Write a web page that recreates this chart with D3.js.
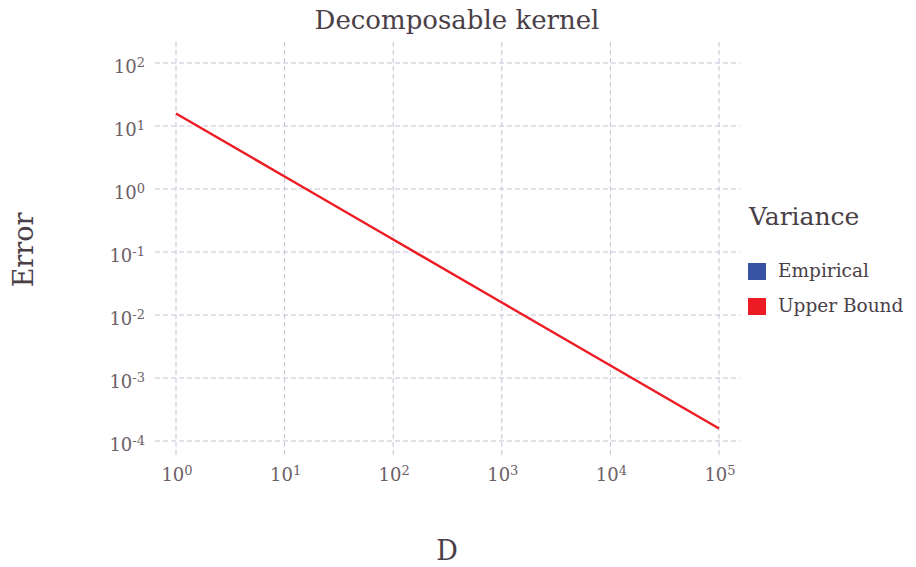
<!DOCTYPE html>
<html>
<head>
<meta charset="utf-8">
<script src="https://cdn.jsdelivr.net/npm/d3@7"></script>
<style>
  body { margin: 0; background: #fff; }
  svg text { font-family: "DejaVu Serif", "Liberation Serif", serif; }
</style>
</head>
<body>
<div id="chart"></div>
<script>
"use strict";

// Data
const xTicks = [1, 10, 100, 1000, 10000, 100000];
const yTicks = [1e-4, 1e-3, 1e-2, 1e-1, 1, 10, 100];
const dValues = [1, 10, 100, 1000, 10000, 100000];
const upperBound = [15.8, 1.58, 0.158, 0.0158, 0.00158, 0.000158];
const empirical = [];   // not visible in the picture
const seriesNames = ["Empirical", "Upper Bound"];
const seriesColors = ["#3953a4", "#ed1c24"];

const width = 916, height = 567;

const svg = d3.select("#chart").append("svg")
    .attr("width", width)
    .attr("height", height);

// Scales
const x = d3.scaleLog().domain([1, 1e5]).range([176, 719]);
const y = d3.scaleLog().domain([1e-4, 1e2]).range([441, 63]);

// Plot panel bounds (a little beyond the outer ticks)
const panel = { left: 155, right: 740, top: 42, bottom: 458 };

const gridColor = "#c5c3d6";
const tickColor = "#6c6067";
const textColor = "#4a3e47";

let grid = svg.append("g").attr("class", "grid");

grid.selectAll("line.h")
    .data(yTicks)
  .enter().append("line")
    .attr("class", "h")
    .attr("x1", panel.left).attr("x2", panel.right)
    .attr("y1", d => y(d)).attr("y2", d => y(d))
    .style("stroke", gridColor)
    .style("stroke-width", 1)
    .style("stroke-dasharray", "5 3");

grid.selectAll("line.v")
    .data(xTicks)
  .enter().append("line")
    .attr("class", "v")
    .attr("x1", d => x(d)).attr("x2", d => x(d))
    .attr("y1", panel.top).attr("y2", panel.bottom)
    .style("stroke", gridColor)
    .style("stroke-width", 1)
    .style("stroke-dasharray", "5 3");

// Tick labels as 10^n
function powLabel(sel, d) {
    let e = Math.round(Math.log10(d));
    sel.append("tspan").text("10");
    sel.append("tspan")
        .attr("dy", "-0.5em")
        .style("font-size", "13px")
        .text(e < 0 ? "-" + Math.abs(e) : e);
}

svg.append("g").selectAll("text")
    .data(yTicks)
  .enter().append("text")
    .attr("x", 145)
    .attr("y", d => y(d) + 10)
    .attr("text-anchor", "end")
    .style("font-size", "18px")
    .style("fill", tickColor)
    .each(function(d) { powLabel(d3.select(this), d); });

svg.append("g").selectAll("text")
    .data(xTicks)
  .enter().append("text")
    .attr("x", d => x(d) + 1)
    .attr("y", 481)
    .attr("text-anchor", "middle")
    .style("font-size", "18px")
    .style("fill", tickColor)
    .each(function(d) { powLabel(d3.select(this), d); });

// Lines
const line = d3.line()
    .x(d => x(d[0]))
    .y(d => y(d[1]));

const series = [
    { name: seriesNames[0], color: seriesColors[0], values: d3.zip(dValues.slice(0, empirical.length), empirical) },
    { name: seriesNames[1], color: seriesColors[1], values: d3.zip(dValues, upperBound) }
];

svg.append("g").selectAll("path")
    .data(series.filter(s => s.values.length > 0))
  .enter().append("path")
    .attr("d", d => line(d.values))
    .style("fill", "none")
    .style("stroke", d => d.color)
    .style("stroke-width", 2.5);

// Title and axis titles
svg.append("text")
    .attr("x", 457).attr("y", 29)
    .attr("text-anchor", "middle")
    .style("font-size", "26px")
    .style("fill", textColor)
    .text("Decomposable kernel");

svg.append("text")
    .attr("x", 447).attr("y", 560)
    .attr("text-anchor", "middle")
    .style("font-size", "27px")
    .style("fill", textColor)
    .text("D");

svg.append("text")
    .attr("transform", "translate(33,250) rotate(-90)")
    .attr("text-anchor", "middle")
    .style("font-size", "27px")
    .style("fill", textColor)
    .text("Error");

// Legend
let legend = svg.append("g").attr("transform", "translate(748,0)");

legend.append("text")
    .attr("x", 1).attr("y", 225)
    .style("font-size", "25px")
    .style("fill", textColor)
    .text("Variance");

let items = legend.selectAll("g.item")
    .data(series)
  .enter().append("g")
    .attr("class", "item")
    .attr("transform", (d, i) => "translate(0," + (263 + i * 35) + ")");

items.append("rect")
    .attr("width", 18).attr("height", 17)
    .style("fill", d => d.color);

items.append("text")
    .attr("x", 30).attr("y", 14)
    .style("font-size", "18.5px")
    .style("fill", textColor)
    .text(d => d.name);
</script>
</body>
</html>
